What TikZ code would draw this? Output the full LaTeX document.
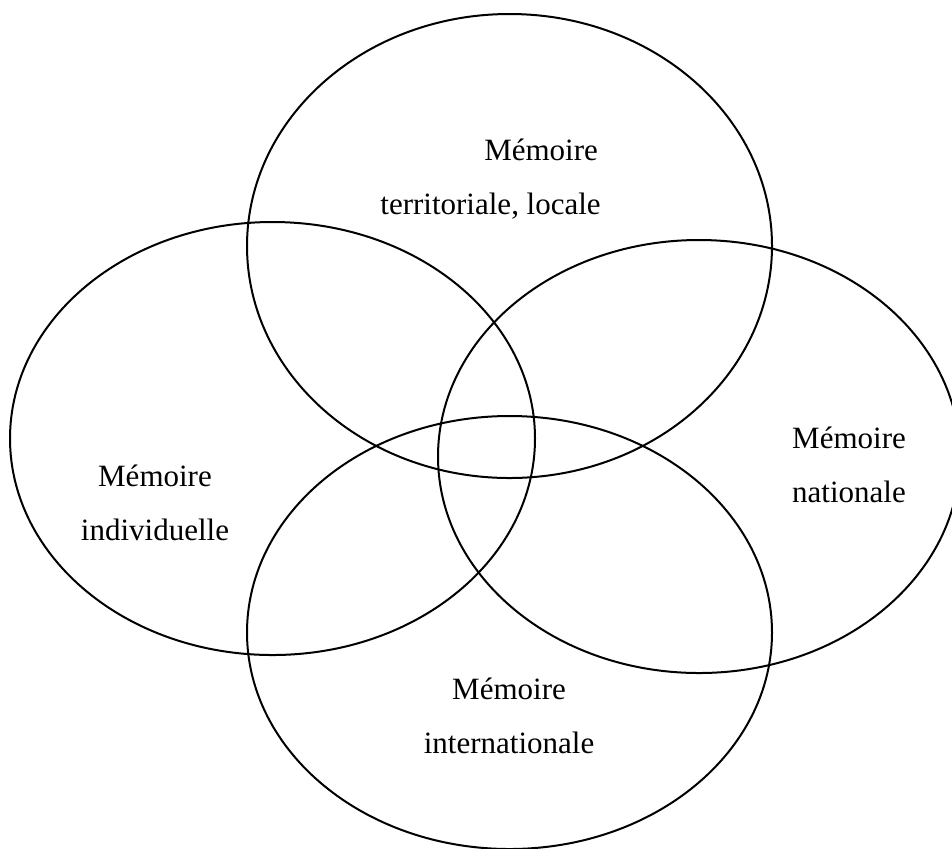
\documentclass[tikz,border=0pt]{standalone}
\usepackage{fontspec}
\setmainfont{Liberation Serif}
\usepackage{tikz}
\usetikzlibrary{positioning}

\tikzset{
	memlabel/.style={font=\fontsize{15.5}{27}\selectfont, align=center, inner sep=0pt, anchor=base},
	memring/.style={line width=1pt}
}

\begin{document}
\begin{tikzpicture}[
			% one unit = one pixel of the 952x848 frame, y pointing down
			x=0.5pt, y=-0.5pt,
			line join=round, line cap=round
		]

		% Frame
		\clip (0,0) rectangle (952,848);

		%-------------------
		% The four memory rings
		%-------------------
		\draw[memring] (509.5,246) ellipse (262.5 and 232);   % territoriale
		\draw[memring] (272.5,438.5) ellipse (262.5 and 216.5); % individuelle
		\draw[memring] (699,456.5) ellipse (261 and 216.5);    % nationale
		\draw[memring] (509.5,632.5) ellipse (262.5 and 216.5); % internationale

		%-------------------
		% Labels
		%-------------------
		\node[memlabel, align=left, anchor=base west] (locale) at (380,214)
			{\hspace*{3.35em}Mémoire\\territoriale, locale};
		\node[memlabel] (individuelle) at (155,540) {Mémoire\\individuelle};
		\node[memlabel] (nationale) at (849,502) {Mémoire\\nationale};
		\node[memlabel] (internationale) at (509,753) {Mémoire\\internationale};

	\end{tikzpicture}
\end{document}
